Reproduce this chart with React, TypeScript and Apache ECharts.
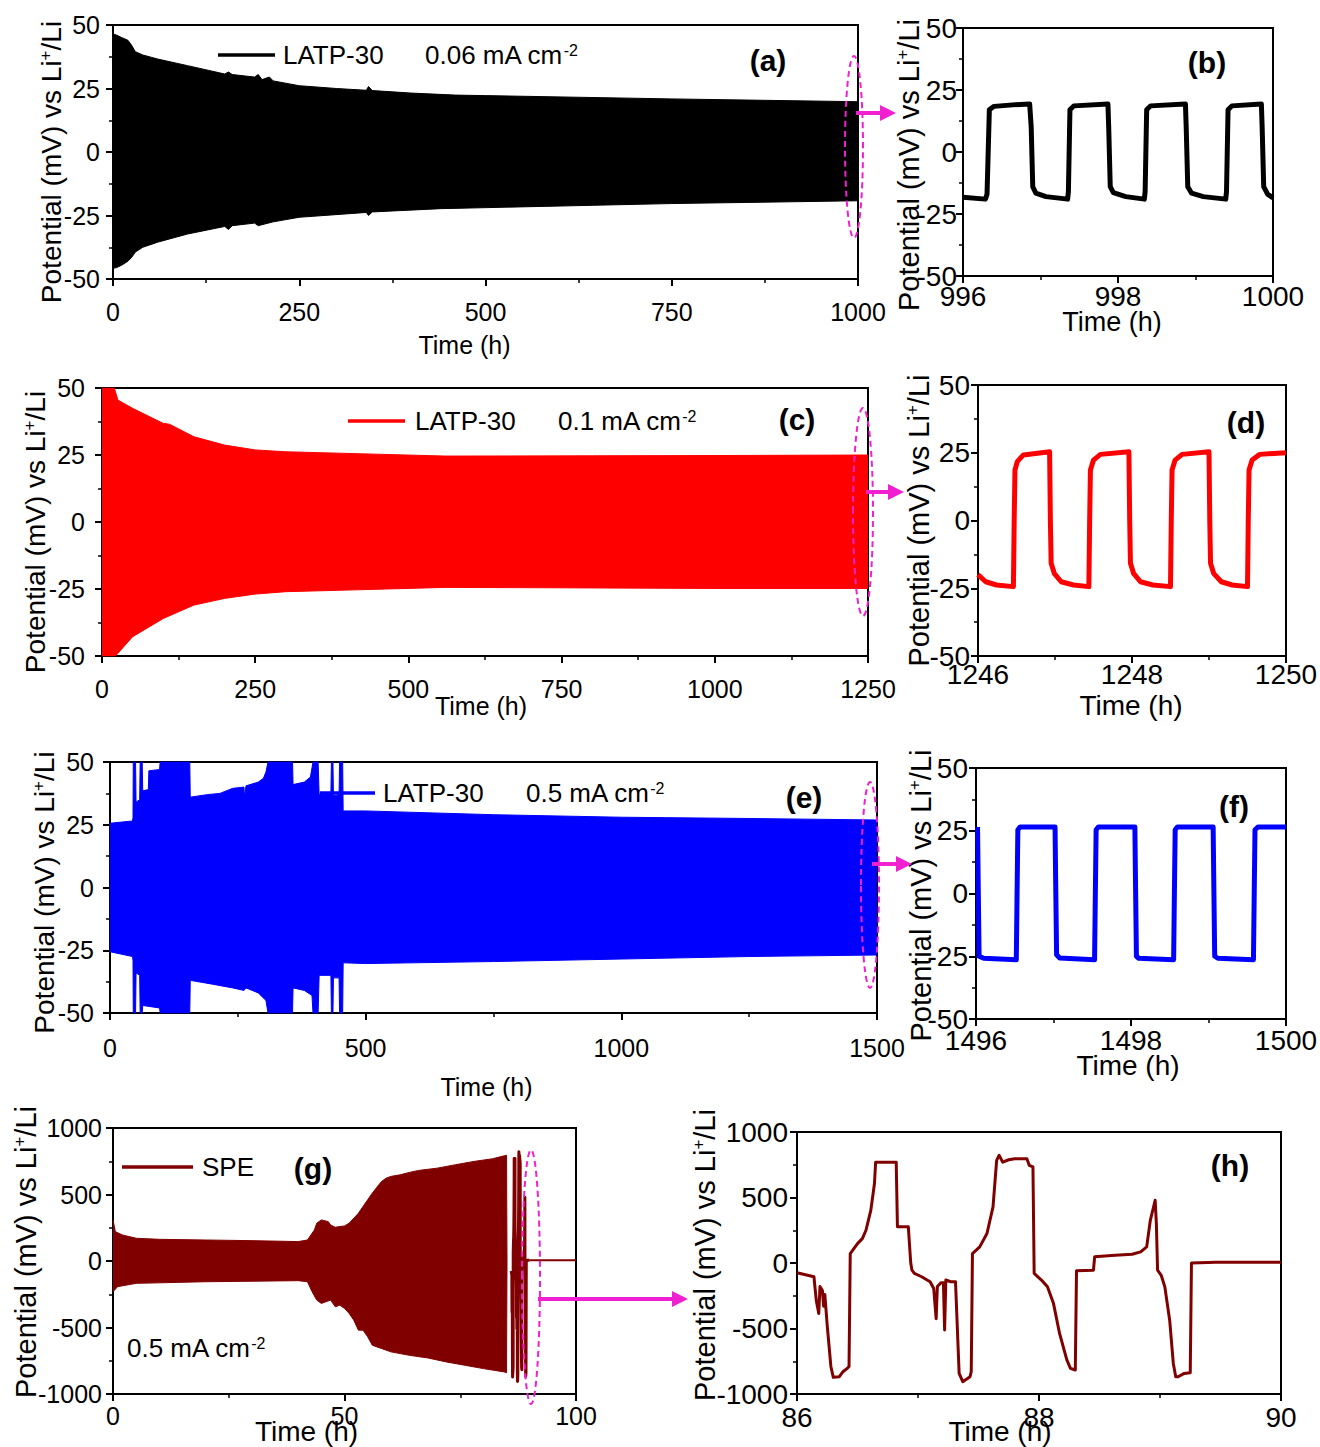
import React, { useEffect, useRef } from "react";
import * as echarts from "echarts";

const FONT = '"Liberation Sans", Arial, Helvetica, sans-serif';
const MAG = "#f020d0";

// ---------- data (time h, potential mV) ----------
const aUpper: [number, number][] = [
  [0, 46.5], [5, 46], [12, 45], [20, 44], [25, 42], [30, 39.5], [40, 38.2], [60, 36.6], [100, 34],
  [150, 30.7], [155, 31.5], [160, 30.5], [190, 29.5], [195, 30.5], [200, 28.5], [210, 29.5], [215, 28],
  [250, 26.1], [300, 25], [340, 24.3], [343, 25.8], [348, 24.2], [400, 23.2], [460, 22.4], [500, 22.2],
  [750, 20.9], [1000, 19.8],
];
const aLower: [number, number][] = [
  [0, -45.8], [5, -45.5], [12, -44.5], [20, -43], [25, -41.5], [30, -39.4], [40, -37.5], [60, -35.5],
  [100, -32.3], [150, -29.3], [155, -30.5], [160, -29], [190, -28], [195, -29], [215, -27.5], [250, -25.7],
  [340, -23.8], [343, -25], [348, -23.6], [440, -22.3], [750, -20.3], [1000, -19.2],
];
const bTrace: [number, number][] = [
  [996, -18.2], [996.29, -19], [996.31, -17], [996.34, 17], [996.4, 18.4], [996.64, 19], [996.86, 19.4],
  [996.88, 10], [996.9, -14], [996.94, -16.6], [997.07, -18], [997.35, -19], [997.36, -16], [997.38, 17],
  [997.43, 18.6], [997.87, 19.4], [997.88, 10], [997.9, -14], [997.94, -16.4], [998.1, -18], [998.34, -19],
  [998.35, -16], [998.37, 17], [998.42, 18.6], [998.87, 19.4], [998.88, 10], [998.9, -14], [998.95, -16.6],
  [999.1, -18], [999.39, -19], [999.4, -16], [999.42, 17], [999.47, 18.6], [999.85, 19.4], [999.86, 10],
  [999.88, -14], [999.93, -17], [1000, -18.5],
];
const cUpper: [number, number][] = [
  [0, 50], [20, 50], [26, 45.5], [50, 42.4], [100, 36.8], [110, 36.5], [150, 31.8], [200, 28.7],
  [250, 26.9], [300, 26.2], [400, 25.6], [560, 24.6], [800, 24.7], [1000, 24.8], [1250, 25],
];
const cLower: [number, number][] = [
  [0, -50], [22, -50], [50, -42.8], [100, -36], [150, -31], [200, -28.5], [250, -26.9], [300, -26],
  [400, -25.4], [560, -24.4], [800, -24.6], [1000, -24.8], [1250, -24.8],
];
const dTrace: [number, number][] = [
  [1246, -20], [1246.1, -22.6], [1246.24, -23.8], [1246.46, -24.4], [1246.47, 0], [1246.48, 18.6],
  [1246.51, 21.7], [1246.59, 24.2], [1246.93, 25.4], [1246.94, 0], [1246.95, -15.8], [1246.99, -19.5],
  [1247.08, -22.6], [1247.24, -23.8], [1247.44, -24.4], [1247.45, 0], [1247.46, 18.6], [1247.5, 22.3],
  [1247.59, 24.4], [1247.96, 25.4], [1247.97, 0], [1247.98, -15.8], [1248.02, -19.5], [1248.11, -22.6],
  [1248.27, -23.8], [1248.5, -24.4], [1248.51, 0], [1248.52, 18.6], [1248.56, 22.3], [1248.65, 24.4],
  [1249, 25.4], [1249.01, 0], [1249.02, -15.8], [1249.06, -19.5], [1249.16, -22.6], [1249.3, -23.8],
  [1249.5, -24.4], [1249.51, 0], [1249.52, 18.6], [1249.56, 22.3], [1249.66, 24.4], [1250, 25],
];
const eUpper: [number, number][] = [
  [0, 25.6], [44, 26.5], [45, 28], [45.5, 50], [50, 50], [51, 34], [58, 35], [59, 50], [63, 50],
  [64, 38.5], [75, 39], [76, 46.5], [97, 47], [98, 50], [156, 50], [157, 36], [190, 37], [215, 37.5],
  [240, 39.5], [262, 40], [263, 36], [266, 40.5], [290, 42], [300, 43.5], [305, 46], [309, 50],
  [357, 50], [358, 41], [380, 42], [392, 44], [397, 50], [407, 50], [409, 37], [432, 37.5], [433, 50],
  [436, 50], [437, 36.5], [448, 37], [449, 50], [455, 50], [456, 30.5], [500, 30.5], [750, 29],
  [1000, 28], [1250, 27.5], [1500, 26.9],
];
const eLower: [number, number][] = [
  [0, -25.6], [44, -27.5], [45, -29], [45.5, -50], [50, -50], [51, -34], [58, -35], [59, -50], [63, -50],
  [64, -47], [97, -48], [98, -50], [156, -50], [157, -37], [200, -38.5], [240, -40], [262, -41],
  [266, -40], [290, -42], [305, -45], [309, -50], [357, -50], [358, -40], [380, -41], [395, -43],
  [397, -50], [407, -50], [409, -35], [432, -35], [433, -50], [436, -50], [437, -36], [448, -36],
  [449, -50], [455, -50], [456, -30], [500, -30.3], [750, -29.5], [1000, -28.5], [1250, -27.5],
  [1500, -26.9],
];
const fTrace: [number, number][] = [
  [1496.02, 26.5], [1496.03, 0], [1496.04, -25], [1496.1, -25.8], [1496.52, -26.4], [1496.53, 0],
  [1496.54, 25.4], [1496.57, 26.5], [1497.02, 26.5], [1497.03, 0], [1497.04, -24.4], [1497.08, -25.7],
  [1497.53, -26.4], [1497.54, 0], [1497.55, 25.4], [1497.58, 26.5], [1498.05, 26.5], [1498.06, 0],
  [1498.07, -25], [1498.1, -25.8], [1498.55, -26.4], [1498.56, 0], [1498.57, 25.4], [1498.6, 26.5],
  [1499.06, 26.5], [1499.07, 0], [1499.08, -25], [1499.12, -25.8], [1499.58, -26.4], [1499.59, 0],
  [1499.6, 25.4], [1499.64, 26.5], [1500, 26.5],
];
const gUpper: [number, number][] = [
  [0, 309], [0.5, 221], [2, 196], [5, 171], [10, 163], [20, 158], [30, 153], [40, 146], [42, 158],
  [43.5, 234], [44, 284], [45, 309], [46.5, 296], [47, 271], [48, 254], [50, 264], [51, 284], [52, 322],
  [53, 359], [54, 410], [55, 460], [56, 510], [57, 555], [58, 598], [59, 623], [60, 636], [62, 648],
  [64, 666], [66, 681], [70, 698], [74, 724], [78, 749], [82, 769], [84.5, 791], [85, 795], [85.1, 0],
];
const gLower: [number, number][] = [
  [0, -231], [1, -193], [5, -168], [20, -156], [40, -148], [42, -156], [43, -231], [44, -294], [45, -319],
  [47, -294], [48, -344], [49, -332], [50, -357], [51, -394], [52, -445], [53, -520], [54, -520],
  [55, -570], [56, -633], [57, -646], [58, -658], [60, -683], [64, -709], [68, -729], [72, -759],
  [76, -784], [80, -809], [84.5, -834], [85, -840], [85.1, 0],
];
const hTrace: [number, number][] = [
  [86, -75], [86.14, -105], [86.15, -200], [86.16, -290], [86.18, -385], [86.19, -180], [86.21, -210],
  [86.22, -330], [86.23, -240], [86.25, -480], [86.28, -790], [86.3, -873], [86.35, -868], [86.38, -830],
  [86.42, -800], [86.43, -790], [86.44, 72], [86.47, 110], [86.5, 148], [86.54, 186], [86.57, 250],
  [86.61, 402], [86.64, 605], [86.65, 770], [86.82, 770], [86.83, 276], [86.92, 276], [86.94, 0],
  [86.95, -55], [86.97, -80], [87.03, -105], [87.1, -143], [87.13, -195], [87.15, -425], [87.16, -180],
  [87.19, -150], [87.21, -150], [87.22, -512], [87.23, -130], [87.27, -143], [87.31, -143], [87.34, -843],
  [87.37, -906], [87.43, -868], [87.44, -830], [87.45, 72], [87.51, 123], [87.57, 225], [87.62, 428],
  [87.65, 784], [87.67, 822], [87.7, 770], [87.75, 788], [87.8, 796], [87.9, 796], [87.92, 745],
  [87.95, 733], [87.96, -80], [88.02, -130], [88.07, -182], [88.12, -310], [88.17, -538], [88.23, -740],
  [88.26, -804], [88.3, -817], [88.31, -60], [88.45, -55], [88.46, 47], [88.63, 60], [88.77, 67],
  [88.84, 85], [88.89, 123], [88.92, 326], [88.96, 479], [88.97, 300], [88.98, -55], [89.01, -94],
  [89.04, -182], [89.08, -437], [89.11, -767], [89.13, -868], [89.15, -868], [89.2, -843], [89.25, -838],
  [89.26, 0], [89.46, 5], [90, 5],
];
const gTail: [number, number][] = [[90, 5], [100, 5]];

// ---------- axis ranges [min, max, interval] ----------
const xRanges: [number, number, number][] = [
  [0, 1000, 250], [996, 1000, 2], [0, 1250, 250], [1246, 1250, 2],
  [0, 1500, 500], [1496, 1500, 2], [0, 100, 50], [86, 90, 2],
];
const yRanges: [number, number, number][] = [
  [-50, 50, 25], [-50, 50, 25], [-50, 50, 25], [-50, 50, 25],
  [-50, 50, 25], [-50, 50, 25], [-1000, 1000, 500], [-1000, 1000, 500],
];
const panelLabels = ["(a)", "(b)", "(c)", "(d)", "(e)", "(f)", "(g)", "(h)"];
const xTitle = "Time (h)";
const yTitle = "Potential (mV) vs Li{sup|+}/Li";

// layout per panel
const layout = [
  { grid: [113, 25, 745, 254], lf: 25, xm: 20, ym: 13, xg: 53, xs: -21, xf: 25, yg: 48, ys: 10, yf: 28, lab: [768, 60] },
  { grid: [963, 28, 310, 248], lf: 28, xm: 6, ym: 6, xg: 32, xs: -6, xf: 27, yg: 40, ys: 13, yf: 29, lab: [1207, 62] },
  { grid: [102, 388, 766, 268], lf: 25, xm: 20, ym: 17, xg: 37, xs: -4, xf: 25, yg: 53, ys: 10, yf: 28, lab: [797, 419] },
  { grid: [978, 385, 308, 271], lf: 28, xm: 4, ym: 8, xg: 35, xs: -1, xf: 28, yg: 45, ys: 0, yf: 29, lab: [1246, 422] },
  { grid: [110, 762, 767, 251], lf: 25, xm: 22, ym: 16, xg: 61, xs: -7, xf: 25, yg: 52, ys: 5, yf: 28, lab: [804, 797] },
  { grid: [976, 768, 310, 251], lf: 28, xm: 7, ym: 8, xg: 32, xs: -3, xf: 28, yg: 41, ys: 2, yf: 29, lab: [1234, 806] },
  { grid: [113, 1128, 463, 266], lf: 25, xm: 9, ym: 11, xg: 23, xs: -38, xf: 28, yg: 73, ys: -9, yf: 29, lab: [313, 1168] },
  { grid: [797, 1132, 484, 262], lf: 28, xm: 9, ym: 9, xg: 23, xs: -39, xf: 28, yg: 78, ys: -8, yf: 29, lab: [1230, 1165] },
];

const tickCommon = {
  axisLine: { show: true, onZero: false, lineStyle: { color: "#000", width: 2 } },
  axisTick: { show: true, inside: false, length: 7, lineStyle: { color: "#000", width: 2 } },
  minorTick: { show: true, splitNumber: 2, length: 4, lineStyle: { color: "#000", width: 1.5 } },
  splitLine: { show: false },
  minorSplitLine: { show: false },
  nameMoveOverlap: false,
};

function area(i: number, data: [number, number][], color: string, origin: any = "auto") {
  return {
    type: "line", xAxisIndex: i, yAxisIndex: i, data, symbol: "none", silent: true,
    lineStyle: { width: 1, color }, itemStyle: { color },
    areaStyle: { color, opacity: 1, origin },
  };
}
function trace(i: number, data: [number, number][], color: string, width: number) {
  return {
    type: "line", xAxisIndex: i, yAxisIndex: i, data, symbol: "none", silent: true,
    lineStyle: { width, color, join: "round" }, itemStyle: { color },
  };
}

function txt(x: number, y: number, text: string, size: number, opts: any = {}) {
  return {
    type: "text", x, y, z: 100,
    style: {
      text, fill: "#000", fontSize: size, fontFamily: FONT, fontWeight: opts.bold ? "bold" : "normal",
      align: opts.align || "left", verticalAlign: "middle",
      rich: { sup: { fontSize: Math.round(size * 0.6), fontFamily: FONT, fill: "#000", verticalAlign: "top" } },
    },
  };
}
function legLine(x1: number, x2: number, y: number, color: string) {
  return { type: "line", z: 100, shape: { x1, y1: y, x2, y2: y }, style: { stroke: color, lineWidth: 3.5 } };
}
function ell(cx: number, cy: number, rx: number, ry: number) {
  return { type: "ellipse", z: 100, shape: { cx, cy, rx, ry }, style: { fill: "none", stroke: MAG, lineWidth: 2, lineDash: [6, 4] } };
}
function arrow(x1: number, x2: number, y: number) {
  return [
    { type: "line", z: 100, shape: { x1, y1: y, x2: x2 - 12, y2: y }, style: { stroke: MAG, lineWidth: 4 } },
    { type: "polygon", z: 100, shape: { points: [[x2 - 16, y - 8], [x2, y], [x2 - 16, y + 8]] }, style: { fill: MAG } },
  ];
}

export default function App() {
  const ref = useRef<HTMLDivElement>(null);
  useEffect(() => {
    document.body.style.margin = "0";
    if (!ref.current) return;
    const chart = echarts.init(ref.current, undefined, { renderer: "svg" });
    const grids = layout.map((l) => ({
      left: l.grid[0], top: l.grid[1], width: l.grid[2], height: l.grid[3],
      show: true, borderColor: "#000", borderWidth: 2, backgroundColor: "transparent",
      containLabel: false, outerBoundsMode: "none",
    }));
    const plain = (v: number) => String(v);
    const xAxes = layout.map((l, i) => ({
      type: "value", gridIndex: i, min: xRanges[i][0], max: xRanges[i][1], interval: xRanges[i][2],
      ...tickCommon,
      axisLabel: { color: "#000", fontSize: l.lf, fontFamily: FONT, margin: l.xm, formatter: plain },
      name: xTitle, nameLocation: "middle", nameGap: l.xg,
      nameTextStyle: {
        color: "#000", fontSize: l.xf, fontFamily: FONT, verticalAlign: "top",
        padding: l.xs < 0 ? [0, -2 * l.xs, 0, 0] : [0, 0, 0, 2 * l.xs],
      },
    }));
    const yAxes = layout.map((l, i) => ({
      type: "value", gridIndex: i, min: yRanges[i][0], max: yRanges[i][1], interval: yRanges[i][2],
      ...tickCommon,
      axisLabel: { color: "#000", fontSize: l.lf, fontFamily: FONT, margin: l.ym, formatter: plain },
      name: yTitle, nameLocation: "middle", nameRotate: 90, nameGap: l.yg,
      nameTextStyle: {
        color: "#000", fontSize: l.yf, fontFamily: FONT,
        padding: l.ys > 0 ? [0, 2 * l.ys, 0, 0] : [0, 0, 0, -2 * l.ys],
        rich: { sup: { fontSize: Math.round(l.yf * 0.6), fontFamily: FONT, color: "#000", verticalAlign: "top" } },
      },
    }));
    const series = [
      area(0, aUpper, "#000", -2), area(0, aLower, "#000"),
      trace(1, bTrace, "#000", 5),
      area(2, cUpper, "#ff0000", -2), area(2, cLower, "#ff0000"),
      trace(3, dTrace, "#ff0000", 5),
      area(4, eUpper, "#0000ff", -2), area(4, eLower, "#0000ff"),
      trace(5, fTrace, "#0000ff", 5),
      area(6, gUpper, "#800000", -30), area(6, gLower, "#800000"),
      trace(6, hTrace, "#800000", 3), trace(6, gTail, "#800000", 2),
      trace(7, hTrace, "#800000", 3),
    ];
    const graphic: any[] = [
      legLine(218, 275, 55, "#000"), txt(283, 55, "LATP-30", 26), txt(425, 55, "0.06 mA cm{sup|-2}", 26),
      legLine(348, 405, 421, "#ff0000"), txt(415, 421, "LATP-30", 26), txt(558, 421, "0.1 mA cm{sup|-2}", 26),
      legLine(320, 375, 793, "#0000ff"), txt(383, 793, "LATP-30", 26), txt(526, 793, "0.5 mA cm{sup|-2}", 26),
      legLine(122, 193, 1167, "#800000"), txt(202, 1167, "SPE", 26),
      txt(127, 1348, "0.5 mA cm{sup|-2}", 26),
      ...layout.map((l, i) => txt(l.lab[0], l.lab[1], panelLabels[i], 30, { bold: true, align: "center" })),
      ell(854, 147, 9, 91), ...arrow(856, 896, 113),
      ell(863, 512, 10, 104), ...arrow(866, 904, 492),
      ell(870, 885, 9, 103), ...arrow(872, 912, 864),
      ell(531, 1277, 9, 127), ...arrow(538, 688, 1299),
    ];
    chart.setOption({
      animation: false,
      backgroundColor: "#fff",
      textStyle: { fontFamily: FONT },
      grid: grids, xAxis: xAxes, yAxis: yAxes, series, graphic,
    });
    return () => chart.dispose();
  }, []);
  return <div ref={ref} style={{ width: 1320, height: 1447, background: "#fff" }} />;
}
